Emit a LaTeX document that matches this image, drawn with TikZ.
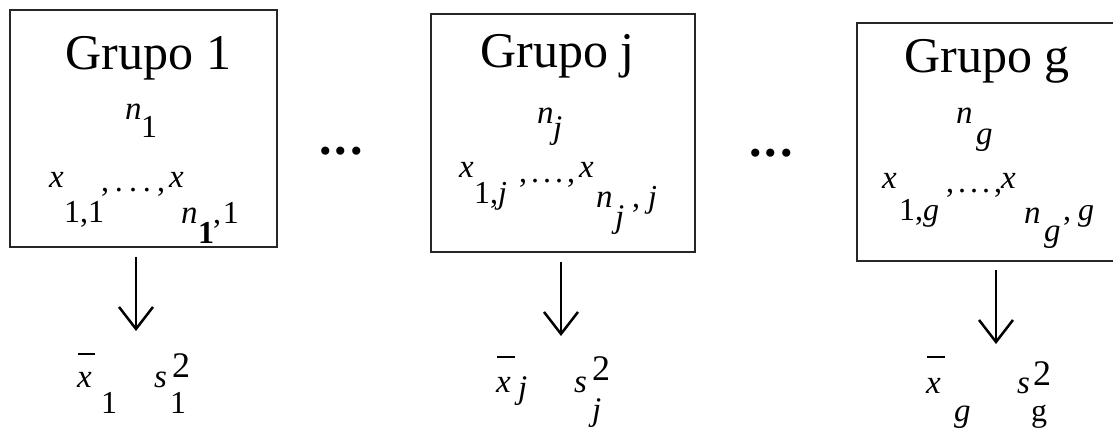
\documentclass[tikz,border=0pt]{standalone}
\usepackage{fontspec}
\setmainfont{Liberation Serif}
\usetikzlibrary{arrows.meta}
\begin{document}
\begin{tikzpicture}[x=1pt,y=-1pt,
  every node/.style={inner sep=0pt, outer sep=0pt},
  big/.style={font=\fontsize{50}{50}\selectfont, anchor=base},
  mi/.style={font=\fontsize{33}{33}\selectfont\itshape, anchor=base west},
  mr/.style={font=\fontsize{32}{32}\selectfont, anchor=base west},
  mb/.style={font=\fontsize{32}{32}\selectfont\bfseries, anchor=base west},
  supr/.style={font=\fontsize{36}{36}\selectfont, anchor=base west},
  frame/.style={draw=black!85, line width=2.2pt},
  arr/.style={-{Straight Barb[length=22pt,width=34pt,line width=2.5pt]}, line width=2.5pt},
  barline/.style={line width=1.6pt}]
\useasboundingbox (0,0) rectangle (1113,428);
% boxes
\node[frame, minimum width=267pt, minimum height=237pt] (b1) at (143.5,128.5) {};
\node[frame, minimum width=264pt, minimum height=238pt] (bj) at (563,133) {};
\node[frame, minimum width=258pt, minimum height=238pt] (bg) at (986,142) {};
% ---------- group 1
\node[big] (t1) at (148.5,70) {Grupo 1};
\node[mi] (n1a) at (125,119) {n};
\node[mr] (n1b) at (141,137) {1};
\node[mi] (x1a) at (49,187) {x};
\node[mr] (x1b) at (64,222) {1,1};
\node[mr] (x1c) at (101,191) {,\kern6pt.\kern6pt.\kern6pt.\kern6pt,};
\node[mi] (x1d) at (169,187) {x};
\node[mi] (x1e) at (181,223) {n};
\node[mb] (x1f) at (198,243) {1};
\node[mr] (x1g) at (213,223) {,\kern2pt1};
% ---------- group j
\node[big] (tj) at (557.5,67) {Grupo j};
\node[mi] (nja) at (537,123) {n};
\node[mi] (njb) at (553,138) {j};
\node[mi] (xja) at (459,177) {x};
\node[mr] (xjb) at (474,203) {1,\textit{j}};
\node[mr] (xjc) at (519,182) {,\kern4pt.\kern4pt.\kern4pt.\kern4pt,};
\node[mi] (xjd) at (579,177) {x};
\node[mi] (xje) at (596,207) {n};
\node[mi] (xjf) at (615,227) {j};
\node[mr] (xjg) at (632,207) {,\kern8pt\textit{j}};
% ---------- group g
\node[big] (tg) at (987,72) {Grupo g};
\node[mi] (nga) at (956,123) {n};
\node[mi] (ngb) at (976,144) {g};
\node[mi] (xga) at (882,188) {x};
\node[mr] (xgb) at (899,220) {1,\textit{g}};
\node[mr] (xgc) at (946,192) {,\kern4pt.\kern4pt.\kern4pt.\kern4pt,};
\node[mi] (xgd) at (1001,188) {x};
\node[mi] (xge) at (1024,223) {n};
\node[mi] (xgf) at (1044,241) {g};
\node[mr] (xgg) at (1063,220) {,\kern7pt\textit{g}};
% ---------- dots between boxes
\node[big, font=\fontsize{50}{50}\selectfont\bfseries] (d1) at (341,154) {.\kern3pt.\kern3pt.};
\node[big, font=\fontsize{50}{50}\selectfont\bfseries] (d2) at (771,156) {.\kern3pt.\kern3pt.};
% ---------- arrows
\coordinate (a1s) at (136,257); \coordinate (a1e) at (136,331);
\coordinate (ajs) at (561,262); \coordinate (aje) at (561,336);
\coordinate (ags) at (996,270); \coordinate (age) at (996,344);
\draw[arr] (a1s) -- (a1e);
\draw[arr] (ajs) -- (aje);
\draw[arr] (ags) -- (age);
% ---------- results 1
\draw[barline] (78,354) -- (95,354);
\node[mi] (r1a) at (77,387) {x};
\node[mr] (r1b) at (101,413) {1};
\node[mi] (r1c) at (154,387) {s};
\node[supr] (r1d) at (172,377) {2};
\node[mr] (r1e) at (170,413) {1};
% ---------- results j
\draw[barline] (497,357) -- (515,357);
\node[mi] (rja) at (496,392) {x};
\node[mi] (rjb) at (518,398) {j};
\node[mi] (rjc) at (574,392) {s};
\node[supr] (rjd) at (592,380) {2};
\node[mi] (rje) at (592,420) {j};
% ---------- results g
\draw[barline] (927,357) -- (945,357);
\node[mi] (rga) at (926,393) {x};
\node[mi] (rgb) at (954,421) {g};
\node[mi] (rgc) at (1017,393) {s};
\node[supr] (rgd) at (1033,385) {2};
\node[mr] (rge) at (1031,421) {g};
\end{tikzpicture}
\end{document}
